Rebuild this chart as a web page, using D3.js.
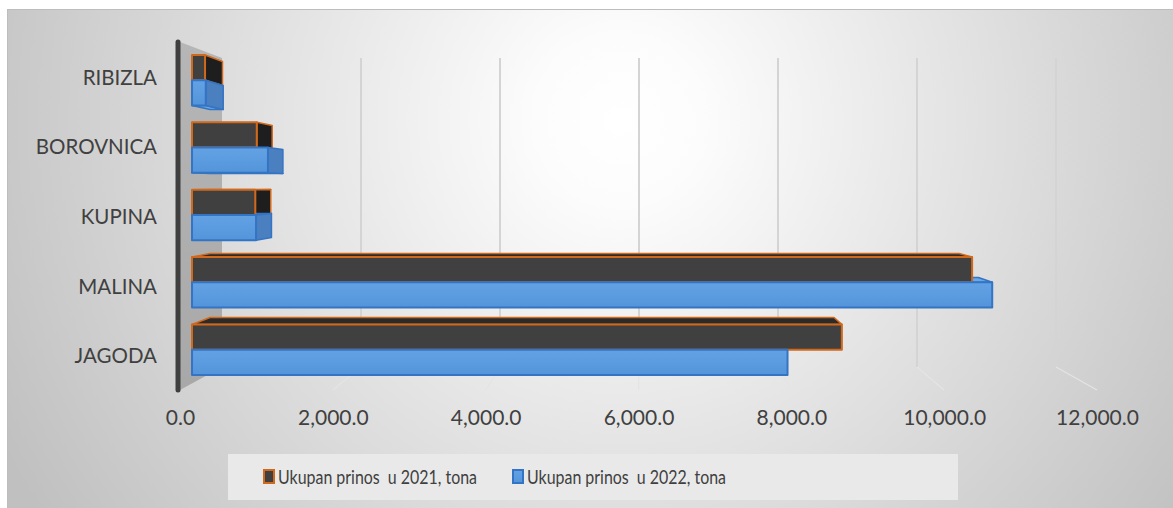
<!DOCTYPE html>
<html>
<head>
<meta charset="utf-8">
<script src="https://cdn.jsdelivr.net/npm/d3@7/dist/d3.min.js"></script>
<style>
  html, body { margin: 0; padding: 0; background: #ffffff; }
  svg { display: block; }
  text { font-family: Lato, "Open Sans", sans-serif; fill: #404040; }
</style>
</head>
<body>
<svg id="chart" width="1173" height="508"></svg>
<script>
// ---- data ----
const categories = ["JAGODA", "MALINA", "KUPINA", "BOROVNICA", "RIBIZLA"];
const values2021 = [8730, 10480, 850, 870, 175];
const values2022 = [8000, 10750, 860, 1020, 185];
const seriesNames = ["Ukupan prinos  u 2021, tona", "Ukupan prinos  u 2022, tona"];
const tickValues = [0, 2000, 4000, 6000, 8000, 10000, 12000];

// ---- setup ----
const W = 1173, H = 508;
const svg = d3.select("#chart");
const defs = svg.append("defs");

const bg = defs.append("radialGradient").attr("id", "bg")
  .attr("gradientUnits", "userSpaceOnUse")
  .attr("cx", 620).attr("cy", 120).attr("r", 700);
bg.append("stop").attr("offset", 0).attr("stop-color", "#ffffff");
bg.append("stop").attr("offset", 0.12).attr("stop-color", "#fcfcfc");
bg.append("stop").attr("offset", 1).attr("stop-color", "#c0c0c0");

const wallG = defs.append("linearGradient").attr("id", "wall")
  .attr("x1", 0).attr("y1", 0).attr("x2", 0).attr("y2", 1);
wallG.append("stop").attr("offset", 0).attr("stop-color", "#b6b6b6");
wallG.append("stop").attr("offset", 1).attr("stop-color", "#a8a8a8");

const blueG = defs.append("linearGradient").attr("id", "blueFront")
  .attr("x1", 0).attr("y1", 0).attr("x2", 0).attr("y2", 1);
blueG.append("stop").attr("offset", 0).attr("stop-color", "#62a2e4");
blueG.append("stop").attr("offset", 1).attr("stop-color", "#5494da");

svg.append("rect").attr("x", 0).attr("y", 0).attr("width", W).attr("height", H).attr("fill", "#ffffff");
svg.append("rect").attr("x", 7.5).attr("y", 9.5).attr("width", W + 10).attr("height", H + 10)
  .attr("fill", "url(#bg)").attr("stroke", "#bdbdbd").attr("stroke-width", 1);

// scales in "back wall" world coordinates
const x = d3.scaleLinear().domain([0, 12000]).range([222, 1056]);
const y = d3.scaleBand().domain(categories.slice().reverse()).range([58, 367])
  .paddingInner(0.25).paddingOuter(0.125);
const ys = d3.scaleBand().domain([0, 1]).range([0, y.bandwidth()]);

// simple perspective: t=0 front, t=1 back
const CX = 644, CY = 185;
function P(X, Y, t) {
  const sx = 1.0995 - 0.0995 * t, sy = 1.126 - 0.126 * t;
  return [CX + (X - CX) * sx, CY + (Y - CY) * sy];
}
const T0 = 0.286, T1 = 0.714;
const poly = pts => "M" + pts.map(p => p[0].toFixed(2) + "," + p[1].toFixed(2)).join("L") + "Z";

const [Ytop, Ybot] = y.range();

// left side wall
svg.append("path")
  .attr("d", poly([P(x(0), Ytop, 0), P(x(0), Ytop, 1), P(x(0), Ybot, 1), P(x(0), Ybot, 0)]))
  .attr("fill", "url(#wall)");

// gridlines on back wall + floor
const grid = svg.append("g");
tickValues.filter(v => v > 0).forEach(v => {
  const a = P(x(v), Ytop, 1), b = P(x(v), Ybot, 1), c = P(x(v), Ybot, 0);
  grid.append("line").attr("x1", a[0]).attr("y1", a[1]).attr("x2", b[0]).attr("y2", b[1])
    .attr("stroke", "#d4d4d4").attr("stroke-width", 2);
  grid.append("line").attr("x1", b[0]).attr("y1", b[1]).attr("x2", c[0]).attr("y2", c[1])
    .attr("stroke", "#e4e4e4").attr("stroke-width", 1.2);
});

// wall front edge
const we1 = P(x(0), Ytop, 0), we2 = P(x(0), Ybot, 0);
svg.append("line").attr("x1", we1[0] - 2).attr("y1", we1[1]).attr("x2", we2[0] - 2).attr("y2", we2[1])
  .attr("stroke", "#3f3f3f").attr("stroke-width", 5).attr("stroke-linecap", "round");

// bars
const styles = [
  { front: "#404040", side: "#2b2b2b", end: "#1e1e1e", stroke: "#d0691c" },
  { front: "url(#blueFront)", side: "#6aa8e6", end: "#4a7fc0", stroke: "#3474c4" }
];
const data = [];
categories.forEach((c, i) => {
  [values2021[i], values2022[i]].forEach((v, s) => data.push({ c, s, v }));
});

const sideG = svg.append("g");
const frontG = svg.append("g");
data.forEach(d => {
  const st = styles[d.s];
  const X0 = x(0), X1 = x(d.v);
  const Ya = y(d.c) + ys(d.s), Yb = Ya + ys.bandwidth();
  if (Ya > CY) {
    sideG.append("path").attr("d", poly([P(X0, Ya, T0), P(X1, Ya, T0), P(X1, Ya, T1), P(X0, Ya, T1)]))
      .attr("fill", st.side).attr("stroke", st.stroke).attr("stroke-width", 1.5).attr("stroke-linejoin", "round");
  }
  if (Yb < CY) {
    sideG.append("path").attr("d", poly([P(X0, Yb, T0), P(X1, Yb, T0), P(X1, Yb, T1), P(X0, Yb, T1)]))
      .attr("fill", st.side).attr("stroke", st.stroke).attr("stroke-width", 1.5).attr("stroke-linejoin", "round");
  }
  if (X1 < CX) {
    sideG.append("path").attr("d", poly([P(X1, Ya, T0), P(X1, Ya, T1), P(X1, Yb, T1), P(X1, Yb, T0)]))
      .attr("fill", st.end).attr("stroke", st.stroke).attr("stroke-width", 1.5).attr("stroke-linejoin", "round");
  }
  frontG.append("path").attr("d", poly([P(X0, Ya, T0), P(X1, Ya, T0), P(X1, Yb, T0), P(X0, Yb, T0)]))
    .attr("fill", st.front).attr("stroke", st.stroke).attr("stroke-width", 2).attr("stroke-linejoin", "round");
});

// category labels (front plane)
svg.append("g").selectAll("text").data(categories).join("text")
  .attr("x", 157)
  .attr("y", d => P(x(0), y(d) + y.bandwidth() / 2, 0)[1])
  .attr("text-anchor", "end").attr("dominant-baseline", "central")
  .attr("font-size", 20.5)
  .text(d => d);

// value axis at the front edge
const xFront = d3.scaleLinear().domain(x.domain())
  .range([P(x(0), Ybot, 0)[0], P(x(12000), Ybot, 0)[0]]);
const axis = svg.append("g").attr("transform", "translate(0,425)")
  .call(d3.axisBottom(xFront).tickValues(tickValues).tickFormat(d3.format(",.1f")).tickSize(0));
axis.select(".domain").remove();
axis.selectAll("text").attr("y", 0).attr("dy", 0)
  .attr("font-size", 21).attr("font-family", "Lato, 'Open Sans', sans-serif").attr("fill", "#404040");

// legend
const lg = svg.append("g");
lg.append("rect").attr("x", 228).attr("y", 454).attr("width", 730).attr("height", 46).attr("fill", "#e9e9e9");
const legX = [263, 512], legTX = [278, 527];
seriesNames.forEach((n, i) => {
  lg.append("rect").attr("x", legX[i] + 1).attr("y", 470).attr("width", 10).attr("height", 13)
    .attr("fill", styles[i].front).attr("stroke", styles[i].stroke).attr("stroke-width", 2);
  lg.append("text").attr("x", legTX[i]).attr("y", 484).attr("font-size", 18.5)
    .attr("xml:space", "preserve").style("white-space", "pre")
    .attr("textLength", 199).attr("lengthAdjust", "spacingAndGlyphs")
    .text(n);
});
</script>
</body>
</html>
